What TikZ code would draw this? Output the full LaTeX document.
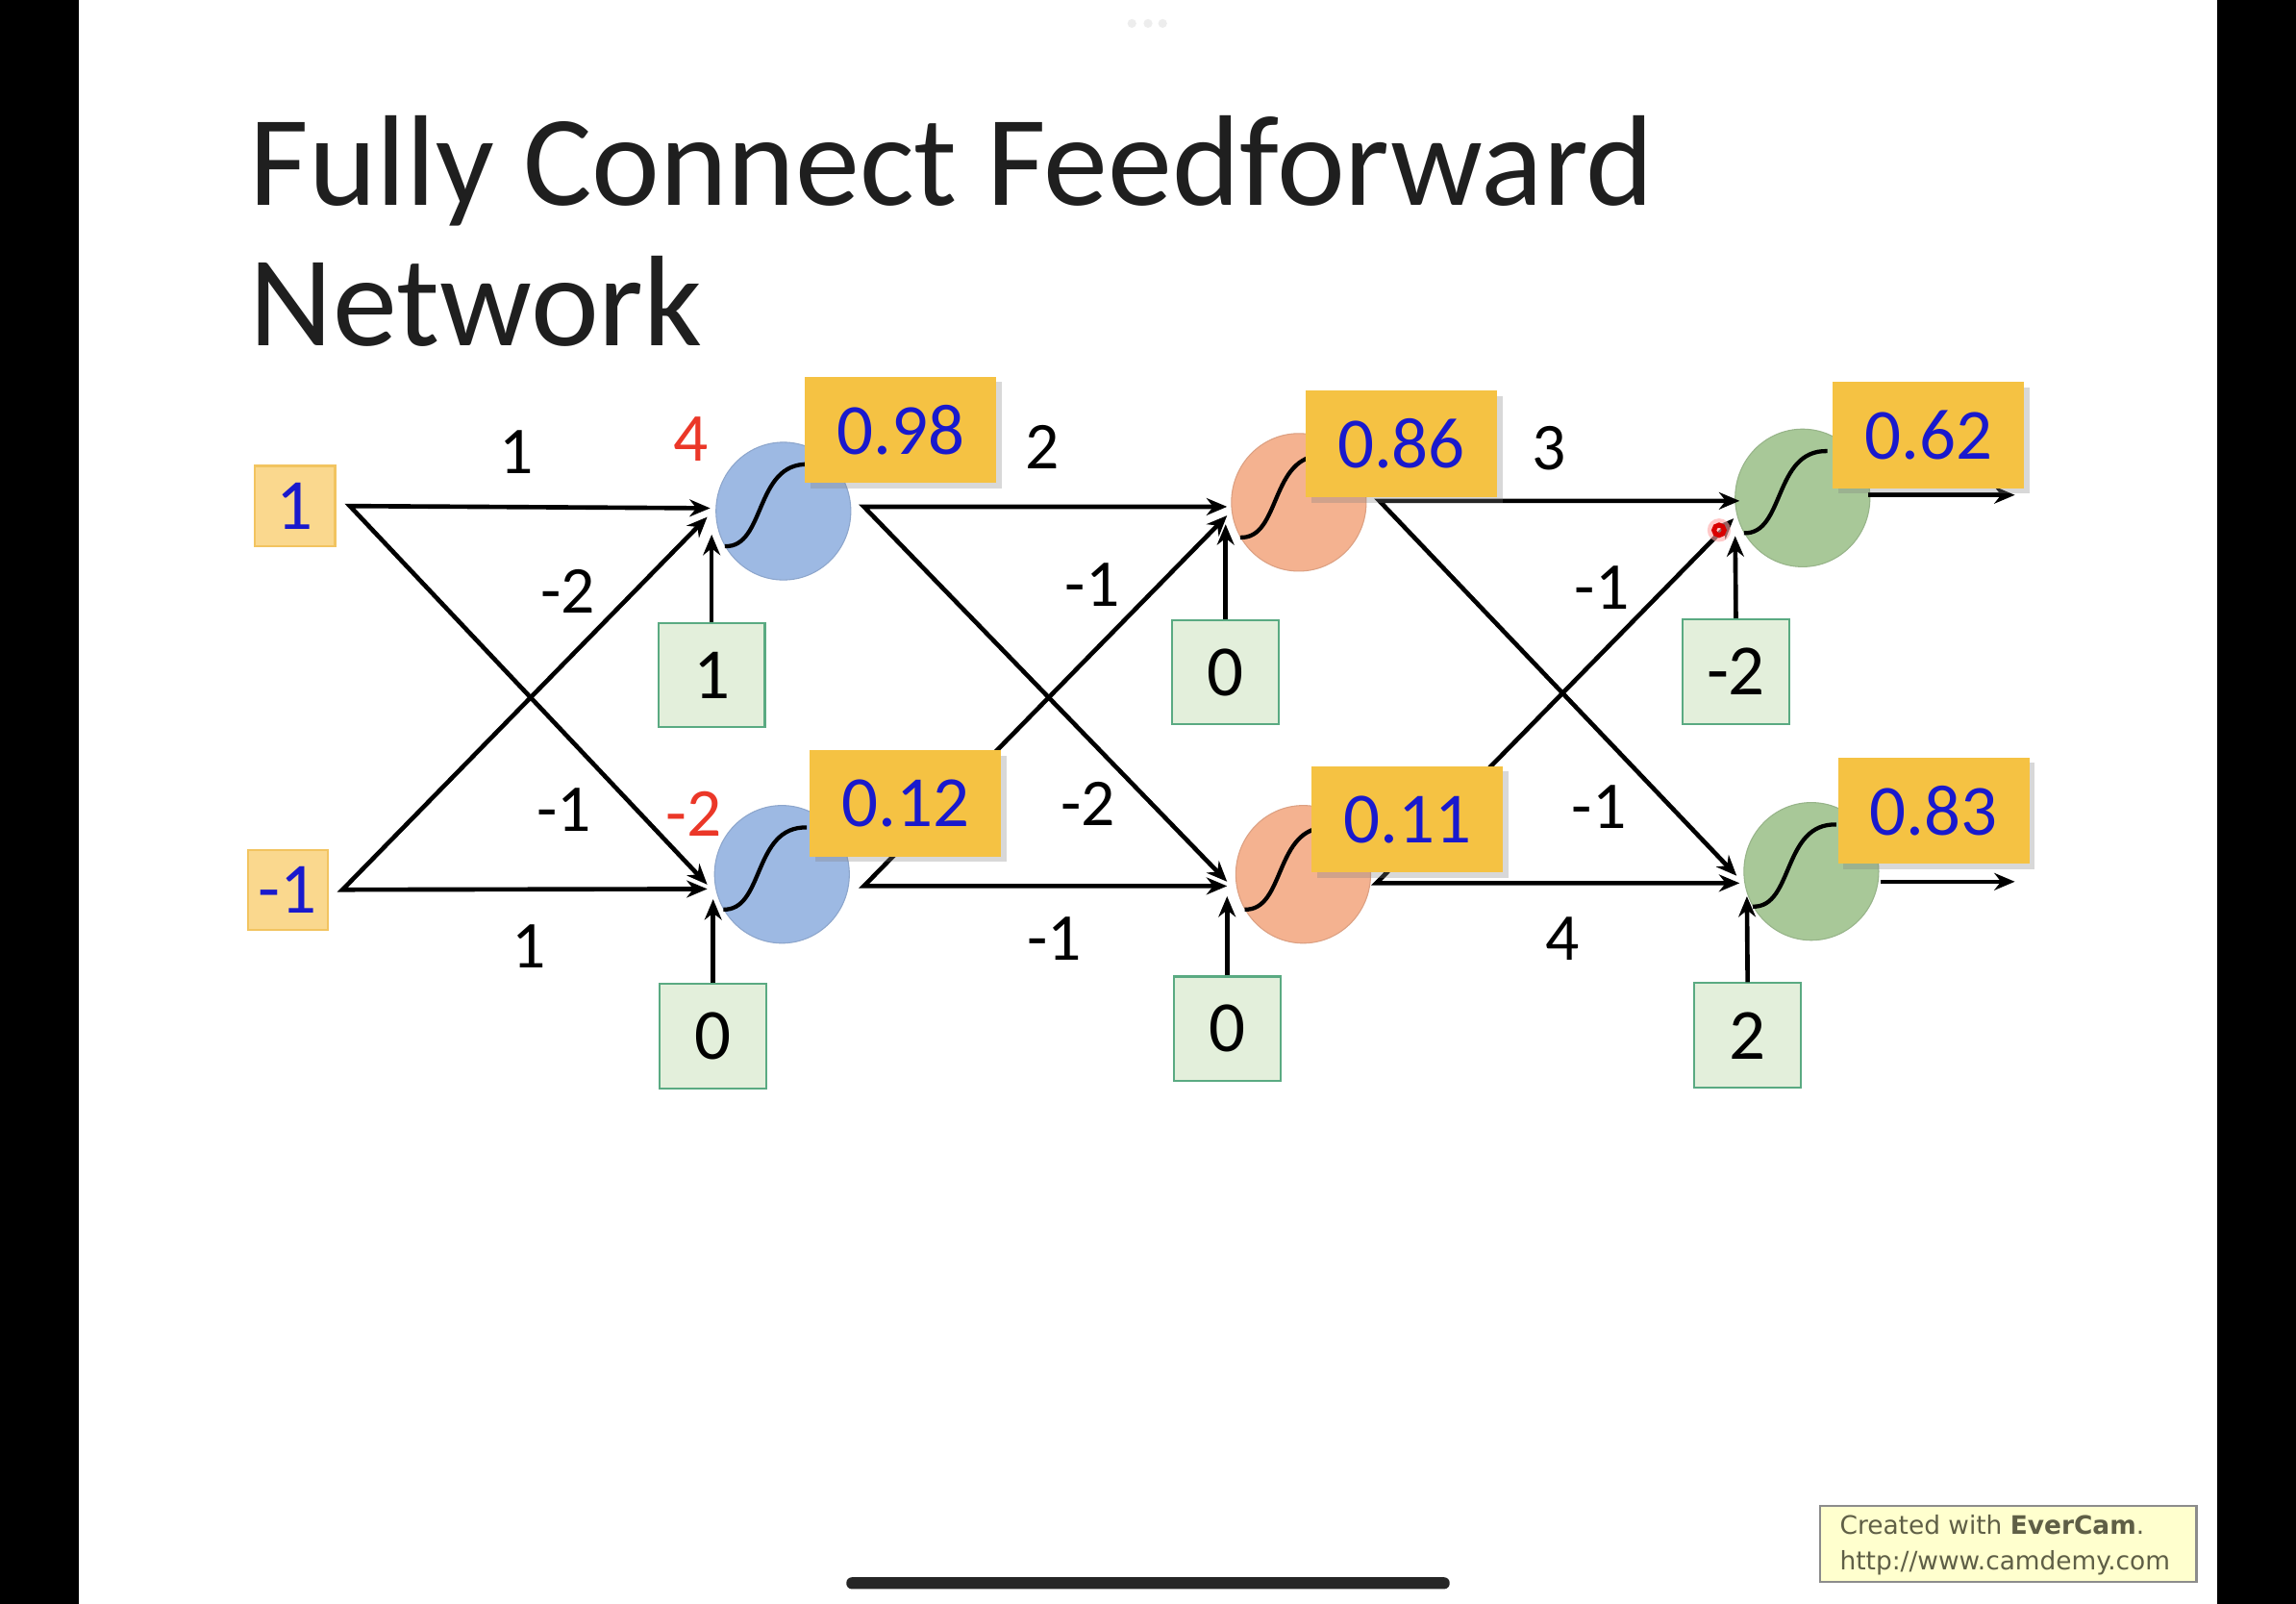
\documentclass[tikz,border=0pt]{standalone}
\usepackage{fontspec}
\setmainfont{Carlito}
\newfontfamily\wmfont{DejaVu Sans}
\usetikzlibrary{arrows.meta,shapes.geometric,shadows}
\definecolor{gold}{RGB}{245,194,67}
\definecolor{inbox}{RGB}{250,216,142}
\definecolor{inboxd}{RGB}{242,196,96}
\definecolor{biasf}{RGB}{227,239,219}
\definecolor{biasd}{RGB}{90,170,130}
\definecolor{nblue}{RGB}{157,185,227}
\definecolor{norange}{RGB}{244,178,144}
\definecolor{ngreen}{RGB}{168,200,152}
\definecolor{tblue}{RGB}{25,25,205}
\definecolor{tred}{RGB}{235,55,40}
\definecolor{wmtext}{RGB}{95,95,70}
\begin{document}
\begin{tikzpicture}[x=0.015cm,y=-0.015cm,
  >={Stealth[length=6pt,width=5pt]},
  conn/.style={line width=1.3pt,line join=miter},
  neuron/.style={ellipse,minimum width=1.38cm,minimum height=1.41cm,inner sep=0pt,fill=#1,draw=#1!90!black,line width=0.3pt},
  valbox/.style={rectangle,fill=gold,minimum width=1.96cm,minimum height=1.09cm,inner sep=0pt,text=tblue,font=\fontsize{21}{25}\selectfont,drop shadow={shadow xshift=1.6pt,shadow yshift=-1.6pt,opacity=0.3}},
  inputbox/.style={rectangle,fill=inbox,draw=inboxd,line width=0.6pt,minimum width=0.82cm,minimum height=0.82cm,inner sep=0pt,text=tblue,font=\fontsize{21}{25}\selectfont},
  biasbox/.style={rectangle,fill=biasf,draw=biasd,line width=0.6pt,minimum width=1.09cm,minimum height=1.07cm,inner sep=0pt,font=\fontsize{21}{25}\selectfont},
  wlabel/.style={font=\fontsize{19.5}{23}\selectfont,inner sep=0pt},
  zlabel/.style={font=\fontsize{20}{24}\selectfont,inner sep=0pt,text=tred},
  sig/.style={line width=1.2pt,black}
]
% page
\useasboundingbox (0,0) rectangle (1568,1095);
\fill[white] (0,0) rectangle (1568,1095);
\fill[black] (0,0) rectangle (54,1095);
\fill[black] (1514,0) rectangle (1568,1095);
\foreach \dx in {773,784,794} \fill[black!7] (\dx,16) circle (3);
\fill[black!85, rounded corners=1.6pt] (578,1077) rectangle (990,1085);

% title
\node[anchor=base west,inner sep=0pt,font=\fontsize{37.6}{44}\selectfont,text=black!88] (title1) at (170,140) {Fully Connect Feedforward};
\node[anchor=base west,inner sep=0pt,font=\fontsize{37.6}{44}\selectfont,text=black!88] (title2) at (170,236) {Network};

% inputs
\node[inputbox] (in1) at (201.5,345.5) {1};
\node[inputbox] (in2) at (196.5,607.5) {-1};

% neurons
\node[neuron=nblue] (n11) at (535,349) {};
\node[neuron=nblue] (n12) at (534,597) {};
\node[neuron=norange] (n21) at (887,343) {};
\node[neuron=norange] (n22) at (890,597) {};
\node[neuron=ngreen] (n31) at (1231,340) {};
\node[neuron=ngreen] (n32) at (1237,595) {};

% sigmoids
\foreach \n in {n11,n12,n21,n22,n31,n32}{
  \draw[sig] ([shift={(-40,24)}]\n.center) .. controls ([shift={(-12,25)}]\n.center) and ([shift={(-20,-33)}]\n.center) .. ([shift={(17,-32)}]\n.center);
}

% bias boxes
\node[biasbox] (b11) at (486,461) {1};
\node[biasbox] (b12) at (487,707.5) {0};
\node[biasbox] (b21) at (837,459) {0};
\node[biasbox] (b22) at (838,702.5) {0};
\node[biasbox] (b31) at (1185.5,458.5) {-2};
\node[biasbox] (b32) at (1193.5,707) {2};

% arrow targets and sources
\coordinate (t11h) at (485,347);
\coordinate (t11d) at (483,353);
\coordinate (t11b) at (486,365);
\coordinate (t12h) at (483,607);
\coordinate (t12d) at (483,604);
\coordinate (t12b) at (487,614);
\coordinate (s11) at (590,346);
\coordinate (s12) at (590,605);
\coordinate (t21h) at (838,346);
\coordinate (t21d) at (838,352);
\coordinate (t21b) at (837,358);
\coordinate (t22h) at (838,605);
\coordinate (t22d) at (838,602);
\coordinate (t22b) at (838,612);
\coordinate (s21) at (942,342);
\coordinate (s22) at (940,603);
\coordinate (t31h) at (1188,342);
\coordinate (t31d) at (1184,354);
\coordinate (t31b) at (1185,366);
\coordinate (t32h) at (1188,603);
\coordinate (t32d) at (1186,598);
\coordinate (t32b) at (1193,612);
\coordinate (o1s) at (1276,338);
\coordinate (o1e) at (1376,338);
\coordinate (o2s) at (1284,602);
\coordinate (o2e) at (1376,602);

% connectors layer 0 -> 1
\draw[conn,<->] (t11h) -- ([xshift=4]in1.east) -- (t12d);
\draw[conn,<->] (t12h) -- ([xshift=4]in2.east) -- (t11d);
\draw[conn,->] (b11.north) -- (t11b);
\draw[conn,->] (b12.north) -- (t12b);
% layer 1 -> 2
\draw[conn,<->] (t21h) -- (s11) -- (t22d);
\draw[conn,<->] (t22h) -- (s12) -- (t21d);
\draw[conn,->] (b21.north) -- (t21b);
\draw[conn,->] (b22.north) -- (t22b);
% layer 2 -> 3
\draw[conn,<->] (t31h) -- (s21) -- (t32d);
\draw[conn,<->] (t32h) -- (s22) -- (t31d);
\draw[conn,->] (b31.north) -- (t31b);
\draw[conn,->] (b32.north) -- (t32b);
% outputs
\draw[conn,->] (o1s) -- (o1e);
\draw[conn,->] (o2s) -- (o2e);

% output value boxes (drawn over the connectors)
\node[valbox] (v11) at (615,293.5) {0.98};
\node[valbox] (v12) at (618.5,548.5) {0.12};
\node[valbox] (v21) at (957,303) {0.86};
\node[valbox] (v22) at (961,559.5) {0.11};
\node[valbox] (v31) at (1317,297) {0.62};
\node[valbox] (v32) at (1320.5,553.5) {0.83};

% z labels
\node[zlabel] (z11) at (472,300) {4};
\node[zlabel] (z12) at (474,556) {-2};

% weight labels
\node[wlabel] (w1) at (353,309) {1};
\node[wlabel] (w2) at (388,404) {-2};
\node[wlabel] (w3) at (385,553) {-1};
\node[wlabel] (w4) at (361,646) {1};
\node[wlabel] (w5) at (712,305) {2};
\node[wlabel] (w6) at (746,399) {-1};
\node[wlabel] (w7) at (743,549) {-2};
\node[wlabel] (w8) at (720,641) {-1};
\node[wlabel] (w9) at (1058,306) {3};
\node[wlabel] (w10) at (1094,401) {-1};
\node[wlabel] (w11) at (1092,551) {-1};
\node[wlabel] (w12) at (1067,641) {4};

% laser pointer
\fill[red!35,opacity=0.6] (1174,362) circle (8);
\draw[red!85!black,line width=1.4pt] (1174,362) circle (3.5);

% watermark
\node[rectangle,fill={rgb,255:red,255;green,255;blue,206},draw=black!45,line width=0.6pt,minimum width=3.855cm,minimum height=0.78cm,inner sep=0pt] (wm) at (1371.5,1054) {};
\node[anchor=west,inner sep=0pt,align=left,text=wmtext,font=\wmfont\fontsize{7.4}{10.5}\selectfont] (wmt) at (1256,1055) {Created with \textbf{EverCam}.\\http://www.camdemy.com};
\end{tikzpicture}
\end{document}
